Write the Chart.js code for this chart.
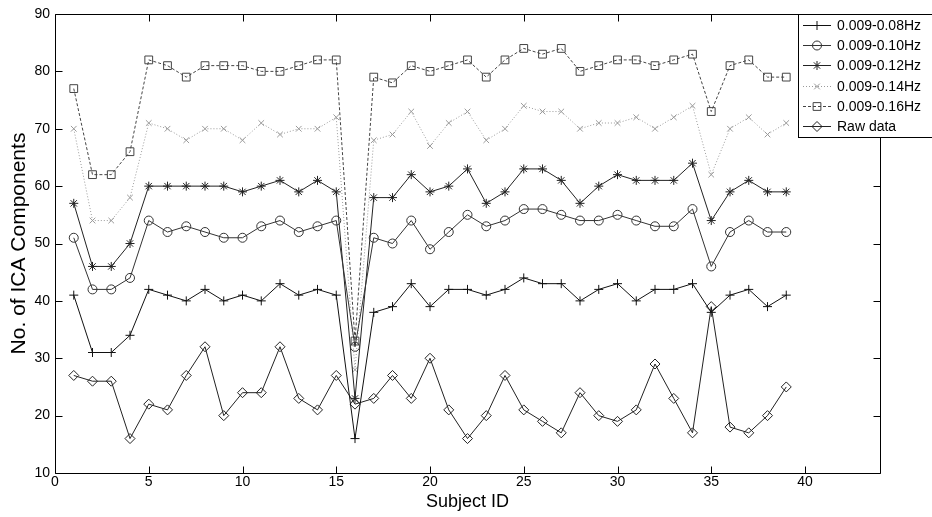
<!DOCTYPE html>
<html><head><meta charset="utf-8">
<script src="https://cdn.jsdelivr.net/npm/chart.js@4.4.1/dist/chart.umd.min.js"></script>
<style>html,body{margin:0;padding:0;background:#fff;}#wrap{width:932px;height:517px;position:relative;}</style>
</head><body><div id="wrap"><canvas id="c" width="932" height="517"></canvas></div>
<script>
const subjects = [1,2,3,4,5,6,7,8,9,10,11,12,13,14,15,16,17,18,19,20,21,22,23,24,25,26,27,28,29,30,31,32,33,34,35,36,37,38,39];
const seriesNames = ['0.009-0.08Hz','0.009-0.10Hz','0.009-0.12Hz','0.009-0.14Hz','0.009-0.16Hz','Raw data'];
const f008 = [41,31,31,34,42,41,40,42,40,41,40,43,41,42,41,16,38,39,43,39,42,42,41,42,44,43,43,40,42,43,40,42,42,43,38,41,42,39,41];
const f010 = [51,42,42,44,54,52,53,52,51,51,53,54,52,53,54,32,51,50,54,49,52,55,53,54,56,56,55,54,54,55,54,53,53,56,46,52,54,52,52];
const f012 = [57,46,46,50,60,60,60,60,60,59,60,61,59,61,59,23,58,58,62,59,60,63,57,59,63,63,61,57,60,62,61,61,61,64,54,59,61,59,59];
const f014 = [70,54,54,58,71,70,68,70,70,68,71,69,70,70,72,28,68,69,73,67,71,73,68,70,74,73,73,70,71,71,72,70,72,74,62,70,72,69,71];
const f016 = [77,62,62,66,82,81,79,81,81,81,80,80,81,82,82,33,79,78,81,80,81,82,79,82,84,83,84,80,81,82,82,81,82,83,73,81,82,79,79];
const rawData = [27,26,26,16,22,21,27,32,20,24,24,32,23,21,27,22,23,27,23,30,21,16,20,27,21,19,17,24,20,19,21,29,23,17,39,18,17,20,25];
const xTickStep = 5, yTickStep = 10;
const xMin = 0, xMax = 44, yMin = 10, yMax = 90;

const FONT = "'Liberation Sans', Arial, Helvetica, sans-serif";
const pts = arr => subjects.map((s, i) => ({x: s, y: arr[i]}));

const styles = [
  {color:'#111', dash:[], ps:'cross', r:4.5},
  {color:'#333', dash:[], ps:'circle', r:4.5},
  {color:'#222', dash:[], ps:'star', r:4.5},
  {color:'#9a9a9a', dash:[1,2], ps:'crossRot', r:4},
  {color:'#444', dash:[3,2], ps:'rect', r:5.5},
  {color:'#222', dash:[], ps:'rectRot', r:5}
];
const allSeries = [f008, f010, f012, f014, f016, rawData];

const datasets = allSeries.map((arr, i) => ({
  label: seriesNames[i],
  data: pts(arr),
  borderColor: styles[i].color,
  borderWidth: 1,
  borderDash: styles[i].dash,
  pointStyle: styles[i].ps,
  pointRadius: styles[i].r,
  pointBorderWidth: 1,
  pointBorderColor: styles[i].color,
  pointBackgroundColor: 'rgba(0,0,0,0)',
  fill: false,
  tension: 0
}));

const framePlugin = {
  id: 'frame',
  afterDatasetsDraw(chart) {
    const {ctx, chartArea: a, scales: {x, y}} = chart;
    ctx.save();
    ctx.strokeStyle = '#000'; ctx.lineWidth = 1; ctx.setLineDash([]);
    const L = Math.round(a.left) + 0.5, R = Math.round(a.right) + 0.5, T = Math.round(a.top) + 0.5, B = Math.round(a.bottom) + 0.5;
    ctx.beginPath();
    ctx.rect(L, T, R - L, B - T);
    x.ticks.forEach(t => { const px = Math.round(x.getPixelForValue(t.value)) + 0.5; ctx.moveTo(px, B); ctx.lineTo(px, B - 7); ctx.moveTo(px, T); ctx.lineTo(px, T + 7); });
    y.ticks.forEach(t => { const py = Math.round(y.getPixelForValue(t.value)) + 0.5; ctx.moveTo(L, py); ctx.lineTo(L + 7, py); ctx.moveTo(R, py); ctx.lineTo(R - 7, py); });
    ctx.stroke();
    ctx.restore();
  }
};

function drawMarker(ctx, style, r, cx, cy) {
  if (Chart.helpers && Chart.helpers.drawPoint) {
    Chart.helpers.drawPoint(ctx, {pointStyle: style, radius: r, borderWidth: 1, rotation: 0}, cx, cy);
  }
}

const legendPlugin = {
  id: 'legendBox',
  afterDraw(chart) {
    const ctx = chart.ctx;
    const bx = 798, by = 14, bw = 140, bh = 123;
    ctx.save();
    ctx.fillStyle = '#fff'; ctx.fillRect(bx, by, bw, bh);
    ctx.strokeStyle = '#000'; ctx.lineWidth = 1; ctx.setLineDash([]);
    ctx.strokeRect(bx + 0.5, by + 0.5, bw, bh);
    chart.data.datasets.forEach((ds, i) => {
      const cy = Math.round(by + 11 + i * 20.2) + 0.5;
      ctx.strokeStyle = ds.borderColor; ctx.lineWidth = 1;
      ctx.setLineDash(ds.borderDash || []);
      ctx.beginPath(); ctx.moveTo(803, cy); ctx.lineTo(831, cy); ctx.stroke();
      ctx.setLineDash([]);
      ctx.fillStyle = 'rgba(0,0,0,0)';
      drawMarker(ctx, ds.pointStyle, ds.pointRadius, 817, cy);
      ctx.fillStyle = '#000';
      ctx.font = '14px ' + FONT;
      ctx.textAlign = 'left'; ctx.textBaseline = 'middle';
      ctx.fillText(ds.label, 837, cy + 1);
    });
    ctx.restore();
  }
};

new Chart(document.getElementById('c'), {
  type: 'line',
  data: {datasets},
  options: {
    responsive: false,
    animation: false,
    devicePixelRatio: 1,
    layout: {padding: {left: 0, right: 52, top: 14, bottom: 0}},
    plugins: {legend: {display: false}, tooltip: {enabled: false}},
    elements: {line: {borderCapStyle: 'butt'}},
    scales: {
      x: {
        type: 'linear', min: xMin, max: xMax,
        grid: {display: false, drawTicks: false}, border: {display: false},
        afterBuildTicks: s => { s.ticks = s.ticks.filter(t => t.value % xTickStep === 0); },
        afterFit: s => { s.height = 44; },
        ticks: {stepSize: xTickStep, color: '#000', font: {family: FONT, size: 14}, padding: 1, maxRotation: 0, autoSkip: false},
        title: {display: true, text: 'Subject ID', color: '#000', font: {family: FONT, size: 18}, padding: {top: 0, bottom: 4}}
      },
      y: {
        min: yMin, max: yMax,
        grid: {display: false, drawTicks: false}, border: {display: false},
        afterFit: s => { s.width = 55; },
        ticks: {stepSize: yTickStep, color: '#000', font: {family: FONT, size: 14}, padding: 5},
        title: {display: true, text: 'No. of ICA Components', color: '#000', font: {family: FONT, size: 21}, padding: {top: 7, bottom: 0}}
      }
    }
  },
  plugins: [framePlugin, legendPlugin]
});
</script></body></html>
